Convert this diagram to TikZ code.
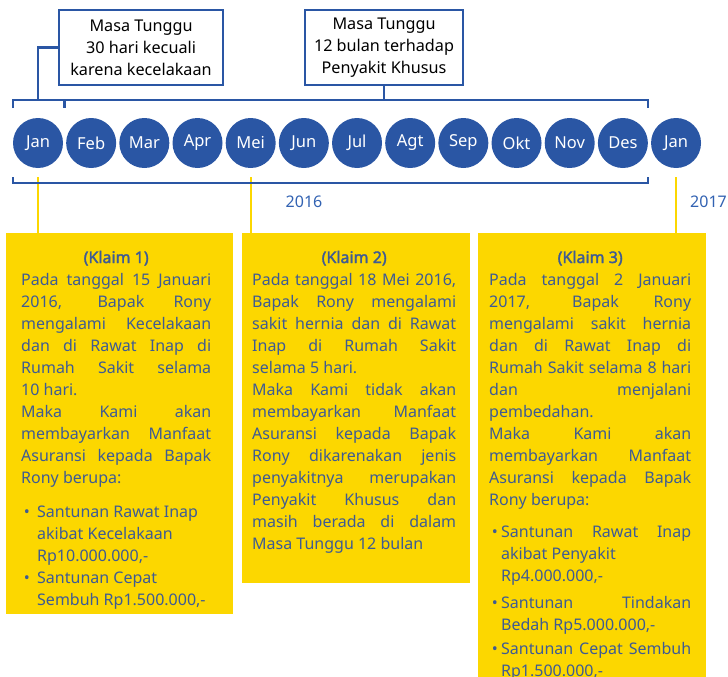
\documentclass[tikz,border=0pt]{standalone}
\usepackage{fontspec}
\setmainfont{Noto Sans}[AutoFakeBold=2]
\usepackage{tikz}
\usetikzlibrary{calc}
\definecolor{tlblue}{HTML}{2A56A4}
\definecolor{txtblue}{HTML}{3E5B94}
\definecolor{yearblue}{HTML}{3262B2}
\definecolor{klaimyellow}{HTML}{FCD700}
\newcommand{\klaimfont}{\fontsize{16}{22}\selectfont\spaceskip=0.26em plus 2em minus 0.12em\relax}
\tikzset{
  month/.style={circle,fill=tlblue,minimum size=50pt,inner sep=0pt,text=white,font=\fontsize{16.5}{18}\selectfont},
  topbox/.style={draw=tlblue,line width=2.4pt,fill=white,align=center,inner sep=0pt,font=\fontsize{16.2}{22}\selectfont},
  bracket/.style={draw=tlblue,line width=2.4pt},
  pin/.style={draw=klaimyellow,line width=2pt},
  year/.style={text=yearblue,inner sep=0pt,font=\fontsize{16}{18}\selectfont},
  klaimbox/.style={fill=klaimyellow,inner sep=0pt,anchor=north west},
  klaimtext/.style={anchor=base west,inner sep=0pt,align=justify,text=txtblue,font=\klaimfont}
}
\newcommand{\klaimtitle}[1]{{\centering\textbf{#1}\par}}
\newcommand{\butir}[2]{\par\hangindent=#1\hangafter=1\noindent\makebox[#1][l]{\,\textbullet}#2\par}

\begin{document}
\begin{tikzpicture}[x=1pt,y=-1pt]
  \useasboundingbox (0,0) rectangle (728,677);
  \foreach \m [count=\i] in {Jan,Feb,Mar,Apr,Mei,Jun,Jul,Agt,Sep,Okt,Nov,Des,Jan}
    \node[month] (m\i) at ({38+53.17*(\i-1)},143) {\m};
  \node[topbox,minimum width=164pt,minimum height=75pt] (t1) at (141,47.5) {Masa Tunggu\\30 hari kecuali\\karena kecelakaan};
  \node[topbox,minimum width=158pt,minimum height=75pt] (t2) at (384,47.5) {Masa Tunggu\\12 bulan terhadap\\Penyakit Khusus};
  \coordinate (tl) at ($(m1.west)+(0,-43)$);
  \coordinate (tr) at ($(m12.east)+(0,-43)$);
  \coordinate (bl) at ($(m1.west)+(0,40)$);
  \coordinate (br) at ($(m12.east)+(0,40)$);
  \coordinate (tm) at ($(m1)!0.5!(m2)+(0,-43)$);
  % klaim boxes and yellow pins
  \node[klaimbox,minimum width=227pt,minimum height=381pt] (k1) at (6,233) {};
  \node[klaimbox,minimum width=228pt,minimum height=350pt] (k2) at (242,233) {};
  \node[klaimbox,minimum width=228pt,minimum height=450pt] (k3) at (478,233) {};
  \foreach \i/\k in {1/k1,5/k2,13/k3} {
    \coordinate (p\i) at ($(m\i.south)+(0,9)$);
    \draw[pin] (p\i) -- (p\i |- \k.north);
  }
  \draw[bracket] ($(tl)+(0,8)$) -- (tl) -- (tr) -- ($(tr)+(0,8)$);
  \draw[bracket] (tm) -- ++(0,8);
  \draw[bracket] ($(bl)+(0,-6)$) -- (bl) -- (br) -- ($(br)+(0,-6)$);
  \draw[bracket] (t1.west) -| (m1 |- tl);
  \draw[bracket] (t2.south) -- (t2.south |- tl);
  \node[year] (y16) at (304,202) {2016};
  \node[year,anchor=west] (y17) at (690,202) {2017};
  \node[klaimtext,text width=190pt] (k1txt) at (21,263) {\klaimtitle{(Klaim 1)}
    Pada tanggal 15 Januari\linebreak 2016, Bapak Rony\linebreak mengalami Kecelakaan\linebreak
    dan di Rawat Inap di\linebreak Rumah Sakit selama\linebreak 10 hari.\par
    Maka Kami akan\linebreak membayarkan Manfaat\linebreak Asuransi kepada Bapak\linebreak Rony berupa:\par
    \vspace{12pt}
    \butir{16pt}{Santunan Rawat Inap\newline akibat Kecelakaan\newline Rp10.000.000,-}
    \butir{16pt}{Santunan Cepat\newline Sembuh Rp1.500.000,-}};
  \node[klaimtext,text width=204pt] (k2txt) at (252,263) {\klaimtitle{(Klaim 2)}
    Pada tanggal 18 Mei 2016,\linebreak Bapak Rony mengalami\linebreak sakit hernia dan di Rawat\linebreak
    Inap di Rumah Sakit\linebreak selama 5 hari.\par
    Maka Kami tidak akan\linebreak membayarkan Manfaat\linebreak Asuransi kepada Bapak\linebreak
    Rony dikarenakan jenis\linebreak penyakitnya merupakan\linebreak Penyakit Khusus dan\linebreak
    masih berada di dalam\linebreak Masa Tunggu 12 bulan\par};
  \node[klaimtext,text width=202pt] (k3txt) at (489,263) {\klaimtitle{(Klaim 3)}
    Pada tanggal 2 Januari\linebreak 2017, Bapak Rony\linebreak mengalami sakit hernia\linebreak
    dan di Rawat Inap di\linebreak Rumah Sakit selama 8 hari\linebreak dan menjalani\linebreak pembedahan.\par
    Maka Kami akan\linebreak membayarkan Manfaat\linebreak Asuransi kepada Bapak\linebreak Rony berupa:\par
    \vspace{10pt}
    \butir{12pt}{Santunan Rawat Inap\linebreak akibat Penyakit\newline Rp4.000.000,-}
    \vspace{5pt}
    \butir{12pt}{Santunan Tindakan\linebreak Bedah Rp5.000.000,-}
    \vspace{2pt}
    \butir{12pt}{Santunan Cepat Sembuh\linebreak Rp1.500.000,-}};
\end{tikzpicture}
\end{document}
